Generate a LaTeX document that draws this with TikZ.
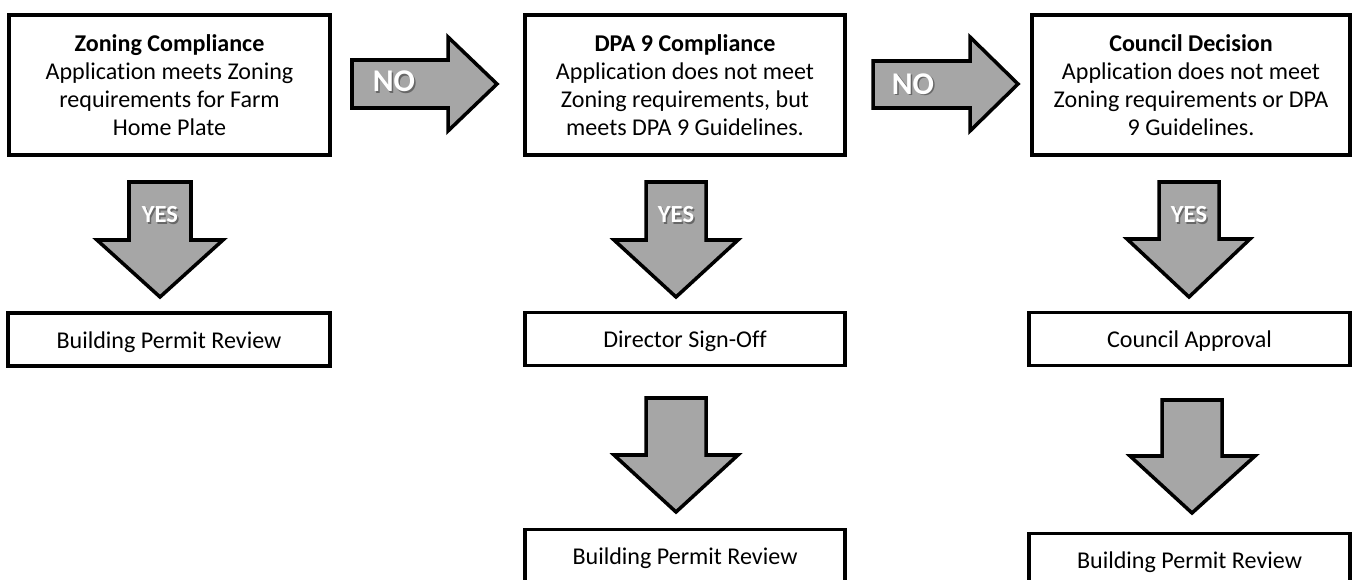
\documentclass[tikz,border=0pt]{standalone}
\usepackage{fontspec}
\setmainfont[Ligatures=NoCommon]{Carlito}
\definecolor{arrowgray}{HTML}{A6A6A6}
\definecolor{shadowgray}{HTML}{4D4D4D}
\begin{document}
\begin{tikzpicture}[x=0.02cm,y=-0.02cm,
  box/.style={draw, line width=2.2pt, fill=white, align=center, inner sep=0pt,
    font=\fontsize{13.7}{16}\selectfont},
  bigbox/.style={box, minimum height=2.8cm},
  smallbox/.style={box, minimum height=1.06cm, execute at begin node={\rule[-4.8pt]{0pt}{19.4pt}}},
  blockarrow/.style={draw, line width=2pt, fill=arrowgray, line join=miter},
  lbl/.style={text=white, inner sep=0pt},
  lblshadow/.style={text=shadowgray, opacity=0.7, inner sep=0pt},
  nofont/.style={font=\bfseries\fontsize{18}{18}\selectfont},
  yesfont/.style={font=\bfseries\fontsize{14}{14}\selectfont}]
\useasboundingbox (0,0) rectangle (1354,580);
% main boxes
\node[bigbox, minimum width=6.42cm] (zc) at (169.5,85) {\textbf{Zoning Compliance}\\Application meets Zoning\\requirements for Farm\\Home Plate};
\node[bigbox, minimum width=6.40cm] (dpa) at (685,85) {\textbf{DPA 9 Compliance}\\Application does not meet\\Zoning requirements, but\\meets DPA 9 Guidelines.};
\node[bigbox, minimum width=6.36cm] (cd) at (1191,85) {\textbf{Council Decision}\\Application does not meet\\Zoning requirements or DPA\\9 Guidelines.};
% result boxes
\node[smallbox, minimum width=6.44cm] (bpr1) at (169,339.5) {Building Permit Review};
\node[smallbox, minimum width=6.40cm] (dso) at (685,339) {Director Sign-Off};
\node[smallbox, minimum width=6.40cm] (bpr2) at (685,556) {Building Permit Review};
\node[smallbox, minimum width=6.42cm] (ca) at (1189.5,339) {Council Approval};
\node[smallbox, minimum width=6.42cm] (bpr3) at (1189.5,560) {Building Permit Review};
% horizontal NO arrows
\draw[blockarrow] (352,60) -- (448,60) -- (448,37) -- (497,84) -- (448,131) -- (448,108) -- (352,108) -- cycle;
\draw[blockarrow] (873,61) -- (970,61) -- (970,37) -- (1018,84) -- (970,131) -- (970,108) -- (873,108) -- cycle;
% down YES arrows
\draw[blockarrow] (129,182) -- (191,182) -- (191,240) -- (223,240) -- (160,297) -- (97,240) -- (129,240) -- cycle;
\draw[blockarrow] (646,182) -- (706,182) -- (706,240) -- (738,240) -- (676,297) -- (614,240) -- (646,240) -- cycle;
\draw[blockarrow] (1159,182) -- (1219,182) -- (1219,239) -- (1250,239) -- (1189,297) -- (1127,239) -- (1159,239) -- cycle;
% lower plain arrows
\draw[blockarrow] (646,398) -- (706,398) -- (706,455) -- (738,455) -- (676,512) -- (614,455) -- (646,455) -- cycle;
\draw[blockarrow] (1162,400) -- (1222,400) -- (1222,456) -- (1255,456) -- (1192,513) -- (1130,456) -- (1162,456) -- cycle;
% labels
\node[lblshadow, nofont] (no1s) at (395.5,83) {NO};
\node[lbl, nofont] (no1) at (394,81.5) {NO};
\node[lblshadow, nofont] (no2s) at (914.5,85.5) {NO};
\node[lbl, nofont] (no2) at (913,84) {NO};
\node[lblshadow, yesfont] (yes1s) at (161.5,216.5) {YES};
\node[lbl, yesfont] (yes1) at (160,215) {YES};
\node[lblshadow, yesfont] (yes2s) at (677.5,216.5) {YES};
\node[lbl, yesfont] (yes2) at (676,215) {YES};
\node[lblshadow, yesfont] (yes3s) at (1190.5,216.5) {YES};
\node[lbl, yesfont] (yes3) at (1189,215) {YES};
\end{tikzpicture}
\end{document}
